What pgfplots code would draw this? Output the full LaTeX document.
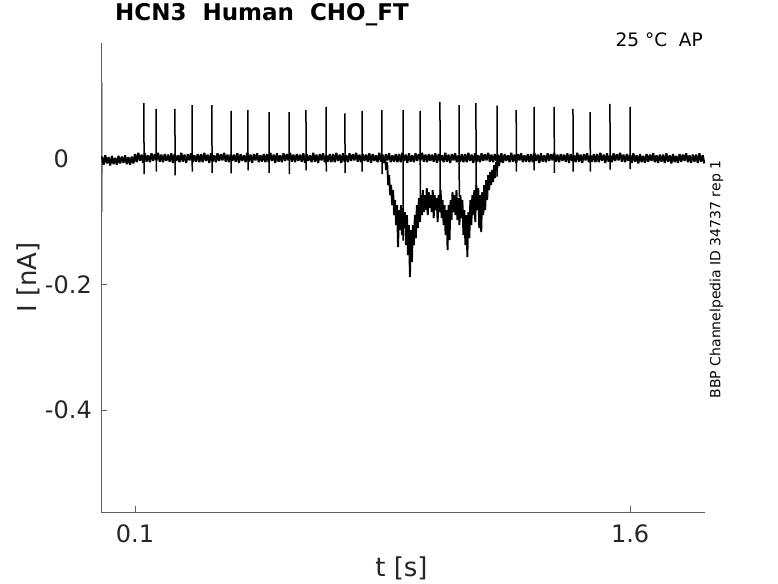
\documentclass[border=0pt]{standalone}
\usepackage{fontspec}
\setmainfont{DejaVu Sans}
\usepackage{pgfplots}
\pgfplotsset{compat=1.18}
\definecolor{axgray}{RGB}{95,95,95}
\definecolor{txt}{RGB}{38,38,38}
\begin{document}
\begin{tikzpicture}[x=1pt,y=1pt]
\path[use as bounding box] (0,0) rectangle (778,583);
\begin{axis}[
 at={(101pt,71pt)}, anchor=south west,
 scale only axis, width=604pt, height=469pt,
 xmin=-0.003, xmax=1.827, ymin=-0.5625, ymax=0.185,
 clip mode=individual,
 axis x line*=bottom, axis y line*=left,
 axis line style={axgray, line width=0.6pt, -},
 xtick={0.1,1.6}, xticklabels={0.1,1.6},
 ytick={-0.4,-0.2,0}, yticklabels={-0.4,-0.2,0\phantom{.0}},
 tick align=inside, major tick length=6pt,
 tick style={axgray, line width=0.6pt},
 xticklabel style={anchor=base, inner sep=0pt, yshift=-30pt, font=\fontsize{24}{28}\selectfont, text=txt},
 yticklabel style={anchor=east, inner sep=0pt, xshift=-9pt, font=\fontsize{24}{28}\selectfont, text=txt},
 xlabel={t [s]}, ylabel={I [nA]},
 xlabel style={at={(axis description cs:0.4975,-0.1365)}, anchor=base, inner sep=0pt, font=\fontsize{26}{30}\selectfont, text=txt},
 ylabel style={at={(axis description cs:-0.12,0.5)}, anchor=center, inner sep=0pt, font=\fontsize{26}{30}\selectfont, text=txt},
 title={HCN3~~Human~~CHO\_FT},
 title style={at={(axis description cs:0.0232,1.0348)}, anchor=base west, inner sep=0pt, font=\bfseries\fontsize{23}{27}\selectfont, text=black},
 unbounded coords=jump,
]
% initial transient
\addplot[gray, line width=0.8pt] coordinates {(0.000,0.005)(0.0004,0.123)(0.0008,-0.084)(0.0012,0.000)};
% baseline sweep
\addplot[black, line width=2.1pt, line join=bevel] coordinates {
(0.000,0.004)(0.005,-0.009)(0.010,0.006)(0.015,-0.007)(0.020,0.003)(0.025,-0.010)(0.030,0.005)(0.035,-0.008)(0.040,0.002)(0.045,-0.009)(0.050,0.005)(0.055,-0.007)(0.060,0.004)(0.065,-0.006)(0.070,0.006)(0.075,-0.008)(0.080,0.003)(0.085,-0.009)(0.090,0.004)(0.095,-0.007)
(0.100,0.008)(0.105,-0.005)(0.110,0.010)(0.115,-0.003)(0.120,0.007)(0.125,-0.006)(0.130,0.009)(0.135,-0.004)(0.140,0.006)(0.145,-0.005)(0.150,0.009)(0.155,-0.003)(0.160,0.008)(0.165,-0.002)(0.170,0.010)(0.175,-0.004)(0.180,0.007)(0.185,-0.005)(0.190,0.008)(0.195,-0.003)
(0.200,0.007)(0.205,-0.004)(0.210,0.009)(0.215,-0.006)(0.220,0.008)(0.225,-0.003)(0.230,0.006)(0.235,-0.005)(0.240,0.010)(0.245,-0.004)(0.250,0.007)(0.255,-0.006)(0.260,0.008)(0.265,-0.002)(0.270,0.009)(0.275,-0.005)(0.280,0.006)(0.285,-0.004)(0.290,0.008)(0.295,-0.005)
(0.300,0.008)(0.305,-0.005)(0.310,0.010)(0.315,-0.003)(0.320,0.007)(0.325,-0.006)(0.330,0.009)(0.335,-0.004)(0.340,0.006)(0.345,-0.005)(0.350,0.009)(0.355,-0.003)(0.360,0.008)(0.365,-0.002)(0.370,0.010)(0.375,-0.004)(0.380,0.007)(0.385,-0.005)(0.390,0.008)(0.395,-0.003)
(0.400,0.007)(0.405,-0.004)(0.410,0.009)(0.415,-0.006)(0.420,0.008)(0.425,-0.003)(0.430,0.006)(0.435,-0.005)(0.440,0.010)(0.445,-0.004)(0.450,0.007)(0.455,-0.006)(0.460,0.008)(0.465,-0.002)(0.470,0.009)(0.475,-0.005)(0.480,0.006)(0.485,-0.004)(0.490,0.008)(0.495,-0.005)
(0.500,0.008)(0.505,-0.005)(0.510,0.010)(0.515,-0.003)(0.520,0.007)(0.525,-0.006)(0.530,0.009)(0.535,-0.004)(0.540,0.006)(0.545,-0.005)(0.550,0.009)(0.555,-0.003)(0.560,0.008)(0.565,-0.002)(0.570,0.010)(0.575,-0.004)(0.580,0.007)(0.585,-0.005)(0.590,0.008)(0.595,-0.003)
(0.600,0.007)(0.605,-0.004)(0.610,0.009)(0.615,-0.006)(0.620,0.008)(0.625,-0.003)(0.630,0.006)(0.635,-0.005)(0.640,0.010)(0.645,-0.004)(0.650,0.007)(0.655,-0.006)(0.660,0.008)(0.665,-0.002)(0.670,0.009)(0.675,-0.005)(0.680,0.006)(0.685,-0.004)(0.690,0.008)(0.695,-0.005)
(0.700,0.008)(0.705,-0.005)(0.710,0.010)(0.715,-0.003)(0.720,0.007)(0.725,-0.006)(0.730,0.009)(0.735,-0.004)(0.740,0.006)(0.745,-0.005)(0.750,0.009)(0.755,-0.003)(0.760,0.008)(0.765,-0.002)(0.770,0.010)(0.775,-0.004)(0.780,0.007)(0.785,-0.005)(0.790,0.008)(0.795,-0.003)
(0.800,0.007)(0.805,-0.004)(0.810,0.009)(0.815,-0.006)(0.820,0.008)(0.825,-0.003)(0.830,0.006)(0.835,-0.005)(0.840,0.010)(0.845,-0.004)(0.850,0.007)(0.855,-0.006)(0.860,0.008)(0.865,-0.002)(0.870,0.009)(0.875,-0.005)(0.880,0.006)(0.885,-0.004)(0.890,0.008)(0.895,-0.005)
(0.900,0.008)(0.905,-0.005)(0.910,0.010)(0.915,-0.003)(0.920,0.007)(0.925,-0.006)(0.930,0.009)(0.935,-0.004)(0.940,0.006)(0.945,-0.005)(0.950,0.009)(0.955,-0.003)(0.960,0.008)(0.965,-0.002)(0.970,0.010)(0.975,-0.004)(0.980,0.007)(0.985,-0.005)(0.990,0.008)(0.995,-0.003)
(1.000,0.007)(1.005,-0.004)(1.010,0.009)(1.015,-0.006)(1.020,0.008)(1.025,-0.003)(1.030,0.006)(1.035,-0.005)(1.040,0.010)(1.045,-0.004)(1.050,0.007)(1.055,-0.006)(1.060,0.008)(1.065,-0.002)(1.070,0.009)(1.075,-0.005)(1.080,0.006)(1.085,-0.004)(1.090,0.008)(1.095,-0.005)
(1.100,0.008)(1.105,-0.005)(1.110,0.010)(1.115,-0.003)(1.120,0.007)(1.125,-0.006)(1.130,0.009)(1.135,-0.004)(1.140,0.006)(1.145,-0.005)(1.150,0.009)(1.155,-0.003)(1.160,0.008)(1.165,-0.002)(1.170,0.010)(1.175,-0.004)(1.180,0.007)(1.185,-0.005)(1.190,0.008)(1.195,-0.003)
(1.200,0.007)(1.205,-0.004)(1.210,0.009)(1.215,-0.006)(1.220,0.008)(1.225,-0.003)(1.230,0.006)(1.235,-0.005)(1.240,0.010)(1.245,-0.004)(1.250,0.007)(1.255,-0.006)(1.260,0.008)(1.265,-0.002)(1.270,0.009)(1.275,-0.005)(1.280,0.006)(1.285,-0.004)(1.290,0.008)(1.295,-0.005)
(1.300,0.008)(1.305,-0.005)(1.310,0.010)(1.315,-0.003)(1.320,0.007)(1.325,-0.006)(1.330,0.009)(1.335,-0.004)(1.340,0.006)(1.345,-0.005)(1.350,0.009)(1.355,-0.003)(1.360,0.008)(1.365,-0.002)(1.370,0.010)(1.375,-0.004)(1.380,0.007)(1.385,-0.005)(1.390,0.008)(1.395,-0.003)
(1.400,0.007)(1.405,-0.004)(1.410,0.009)(1.415,-0.006)(1.420,0.008)(1.425,-0.003)(1.430,0.006)(1.435,-0.005)(1.440,0.010)(1.445,-0.004)(1.450,0.007)(1.455,-0.006)(1.460,0.008)(1.465,-0.002)(1.470,0.009)(1.475,-0.005)(1.480,0.006)(1.485,-0.004)(1.490,0.008)(1.495,-0.005)
(1.500,0.008)(1.505,-0.005)(1.510,0.010)(1.515,-0.003)(1.520,0.007)(1.525,-0.006)(1.530,0.009)(1.535,-0.004)(1.540,0.006)(1.545,-0.005)(1.550,0.009)(1.555,-0.003)(1.560,0.008)(1.565,-0.002)(1.570,0.010)(1.575,-0.004)(1.580,0.007)(1.585,-0.005)(1.590,0.008)(1.595,-0.003)
(1.600,0.007)(1.605,-0.006)(1.610,0.009)(1.615,-0.004)(1.620,0.006)(1.625,-0.007)(1.630,0.008)(1.635,-0.005)(1.640,0.005)(1.645,-0.006)(1.650,0.008)(1.655,-0.004)(1.660,0.007)(1.665,-0.003)(1.670,0.009)(1.675,-0.005)(1.680,0.006)(1.685,-0.006)(1.690,0.007)(1.695,-0.004)
(1.700,0.007)(1.705,-0.006)(1.710,0.009)(1.715,-0.004)(1.720,0.006)(1.725,-0.007)(1.730,0.008)(1.735,-0.005)(1.740,0.005)(1.745,-0.006)(1.750,0.008)(1.755,-0.004)(1.760,0.007)(1.765,-0.003)(1.770,0.009)(1.775,-0.005)(1.780,0.006)(1.785,-0.006)(1.790,0.007)(1.795,-0.004)
(1.800,0.007)(1.805,-0.006)(1.810,0.009)(1.815,-0.004)(1.820,0.006)(1.825,-0.007)
};
% inward current sweep
\addplot[black, line width=1.9pt, line join=bevel] coordinates {
(0.858,0.0016)(0.861,-0.0175)(0.864,-0.0048)(0.867,-0.0414)(0.870,-0.0255)(0.873,-0.0574)(0.876,-0.0414)(0.879,-0.0733)(0.882,-0.0494)(0.885,-0.0892)
(0.888,-0.0653)(0.891,-0.1052)(0.894,-0.0733)(0.897,-0.1402)(0.900,-0.0813)(0.903,-0.1131)(0.906,-0.0733)(0.909,-0.1211)(0.912,-0.0781)(0.915,-0.1100)
(0.918,-0.0845)(0.921,-0.1370)(0.924,-0.0892)(0.927,-0.1530)(0.930,-0.1052)(0.933,-0.1880)(0.936,-0.1131)(0.939,-0.1641)(0.942,-0.1052)(0.945,-0.1370)
(0.948,-0.0892)(0.951,-0.1259)(0.954,-0.0733)(0.957,-0.1100)(0.960,-0.0622)(0.963,-0.1004)(0.966,-0.0574)(0.969,-0.0892)(0.972,-0.0494)(0.975,-0.0845)
(0.978,-0.0574)(0.981,-0.0813)(0.984,-0.0462)(0.987,-0.0892)(0.990,-0.0526)(0.993,-0.0781)(0.996,-0.0574)(0.999,-0.0845)(1.002,-0.0494)(1.005,-0.0940)
(1.008,-0.0574)(1.011,-0.0813)(1.014,-0.0622)(1.017,-0.1004)(1.020,-0.0574)(1.023,-0.0845)(1.026,-0.0494)(1.029,-0.0940)(1.032,-0.0653)(1.035,-0.1052)
(1.038,-0.0733)(1.041,-0.1211)(1.044,-0.0813)(1.047,-0.1450)(1.050,-0.0733)(1.053,-0.1291)(1.056,-0.0653)(1.059,-0.0972)(1.062,-0.0526)(1.065,-0.0845)
(1.068,-0.0574)(1.071,-0.0892)(1.074,-0.0494)(1.077,-0.0972)(1.080,-0.0622)(1.083,-0.1052)(1.086,-0.0574)(1.089,-0.0940)(1.092,-0.0653)(1.095,-0.1211)
(1.098,-0.0813)(1.101,-0.1370)(1.104,-0.0892)(1.107,-0.1562)(1.110,-0.0845)(1.113,-0.1259)(1.116,-0.0653)(1.119,-0.1052)(1.122,-0.0574)(1.125,-0.0892)
(1.128,-0.0494)(1.131,-0.1004)(1.134,-0.0414)(1.137,-0.0813)(1.140,-0.0462)(1.143,-0.1100)(1.146,-0.0574)(1.149,-0.1163)(1.152,-0.0526)(1.155,-0.0892)
(1.158,-0.0414)(1.161,-0.0813)(1.164,-0.0335)(1.167,-0.0653)(1.170,-0.0255)(1.173,-0.0494)(1.176,-0.0207)(1.179,-0.0414)(1.182,-0.0175)(1.185,-0.0367)
(1.188,-0.0096)(1.191,-0.0303)(1.194,-0.0048)(1.197,-0.0175)(1.200,-0.0016)(1.203,-0.0112)(1.206,0.0032)(1.209,-0.0048)(1.212,0.0016)
};
% spikes
\addplot[black, line width=1.5pt] coordinates {
(0.127,0.089)(0.1275,-0.024)(0.128,nan)
(0.164,0.080)(0.1645,-0.020)(0.165,nan)
(0.221,0.080)(0.2215,-0.026)(0.222,nan)
(0.273,0.086)(0.2735,-0.020)(0.274,nan)
(0.333,0.086)(0.3335,-0.022)(0.334,nan)
(0.391,0.077)(0.3915,-0.023)(0.392,nan)
(0.442,0.078)(0.4425,-0.018)(0.443,nan)
(0.506,0.075)(0.5065,-0.022)(0.507,nan)
(0.567,0.075)(0.5675,-0.024)(0.568,nan)
(0.618,0.078)(0.6185,-0.018)(0.619,nan)
(0.679,0.083)(0.6795,-0.020)(0.680,nan)
(0.736,0.073)(0.7365,-0.022)(0.737,nan)
(0.788,0.077)(0.7885,-0.020)(0.789,nan)
(0.848,0.078)(0.8485,-0.024)(0.849,nan)
(0.912,0.078)(0.9125,-0.130)(0.913,nan)
(0.964,0.077)(0.9645,-0.098)(0.965,nan)
(1.024,0.091)(1.0245,-0.080)(1.025,nan)
(1.082,0.086)(1.0825,-0.060)(1.083,nan)
(1.133,0.089)(1.1335,-0.045)(1.134,nan)
(1.197,0.085)(1.1975,-0.028)(1.198,nan)
(1.255,0.078)(1.2555,-0.020)(1.256,nan)
(1.309,0.083)(1.3095,-0.018)(1.310,nan)
(1.370,0.083)(1.3705,-0.022)(1.371,nan)
(1.427,0.080)(1.4275,-0.020)(1.428,nan)
(1.479,0.075)(1.4795,-0.020)(1.480,nan)
(1.539,0.088)(1.5395,-0.017)(1.540,nan)
(1.600,0.083)(1.6005,-0.016)(1.601,nan)
};
\node[anchor=base east, inner sep=0pt, text=black, font=\fontsize{18.5}{22}\selectfont] at (axis description cs:0.9967,0.9921) {25 °C~~AP};
\node[anchor=center, rotate=90, inner sep=0pt, text=black, font=\fontsize{14}{17}\selectfont] at (axis description cs:1.019,0.4957) {BBP Channelpedia ID 34737 rep 1};
\end{axis}
\end{tikzpicture}
\end{document}
